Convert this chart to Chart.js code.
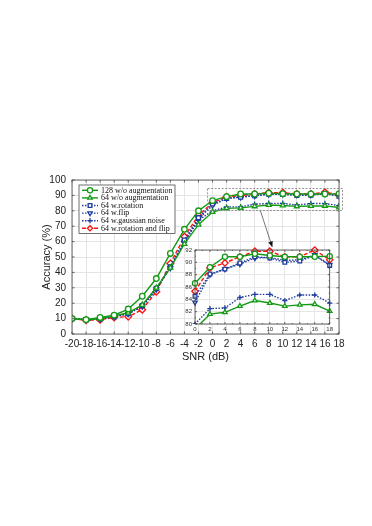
<!DOCTYPE html>
<html>
<head>
<meta charset="utf-8">
<script src="https://cdn.jsdelivr.net/npm/chart.js@4.4.1/dist/chart.umd.min.js"></script>
<style>
html, body { margin: 0; padding: 0; background: #fff; }
#wrap { position: relative; width: 372px; height: 526px; }
#main { position: absolute; left: 0; top: 0; }
#inset { position: absolute; left: 173px; top: 240px; }
</style>
</head>
<body>
<div id="wrap">
  <canvas id="main" width="372" height="526"></canvas>
  <canvas id="inset" width="162" height="94"></canvas>
</div>
<script>
// SNR values (dB)
const snr = [-20, -18, -16, -14, -12, -10, -8, -6, -4, -2, 0, 2, 4, 6, 8, 10, 12, 14, 16, 18];

// accuracy (%) per model
const acc128NoAug   = [10, 9.3, 10.7, 12.2, 16.2, 24.5, 36.0, 52.3, 68.0, 80.0, 86.6, 89.2, 90.9, 90.9, 91.4, 91.1, 90.9, 90.9, 90.9, 91.0];
const acc64NoAug    = [10, 9.3, 9.8, 11.8, 13.8, 18.9, 30.0, 43.0, 58.5, 71.0, 79.2, 81.6, 81.9, 82.9, 83.8, 83.4, 82.9, 83.1, 83.2, 82.1];
const acc64Rot      = [10, 9.3, 9.8, 11.3, 13.3, 18.4, 29.6, 43.6, 61.0, 75.5, 84.5, 88.1, 88.9, 89.9, 90.9, 90.7, 90.0, 90.2, 91.1, 89.5];
const acc64Flip     = [10, 9.3, 9.8, 11.3, 13.0, 18.0, 29.0, 43.0, 60.0, 74.8, 83.5, 88.0, 88.9, 89.7, 90.7, 90.8, 90.3, 90.4, 91.2, 89.6];
const acc64Gauss    = [10, 9.3, 9.8, 11.3, 13.3, 18.0, 29.0, 43.5, 59.8, 73.9, 80.0, 82.5, 82.6, 84.3, 84.8, 84.8, 83.8, 84.7, 84.7, 83.4];
const acc64RotFlip  = [10, 8.9, 9.3, 10.7, 11.3, 15.8, 27.5, 45.8, 63.2, 77.0, 85.3, 89.1, 89.9, 90.9, 91.8, 91.8, 90.9, 90.9, 92.0, 90.4];

const labels = ['128 w/o augmentation', '64 w/o augmentation', '64 w.rotation',
                '64 w.flip', '64 w.gaussian noise', '64 w.rotation and flip'];

const GREEN = '#159a15', BLUE = '#1f3c9c', RED = '#ff1010';

const series = [
  { label: labels[0], values: acc128NoAug,  color: GREEN, style: 'circle',   rot: 0,   dash: [] },
  { label: labels[1], values: acc64NoAug,   color: GREEN, style: 'triangle', rot: 0,   dash: [] },
  { label: labels[2], values: acc64Rot,     color: BLUE,  style: 'rect',     rot: 0,   dash: [1.5, 1.5] },
  { label: labels[3], values: acc64Flip,    color: BLUE,  style: 'triangle', rot: 180, dash: [1.5, 1.5] },
  { label: labels[4], values: acc64Gauss,   color: BLUE,  style: 'cross',    rot: 0,   dash: [1.5, 1.5] },
  { label: labels[5], values: acc64RotFlip, color: RED,   style: 'rectRot',  rot: 0,   dash: [4, 2] }
];

const SANS = '"Liberation Sans", Arial, sans-serif';

function makeDatasets(from, radius) {
  return series.map(s => ({
    label: s.label,
    data: snr.slice(from).map((x, i) => ({ x: x, y: s.values[from + i] })),
    borderColor: s.color,
    borderWidth: 1.4,
    borderDash: s.dash,
    pointStyle: s.style,
    pointRotation: s.rot,
    pointRadius: s.style === 'rectRot' ? radius + 0.6 : radius,
    pointBorderWidth: 1.3,
    pointBorderColor: s.color,
    pointBackgroundColor: '#fff',
    tension: 0,
    fill: false
  }));
}

// box, inward ticks, optional minor ticks (matlab look)
function drawFrame(chart, len, minor) {
  const ctx = chart.ctx, a = chart.chartArea;
  const xs = chart.scales.x, ys = chart.scales.y;
  ctx.save();
  ctx.strokeStyle = '#444';
  ctx.lineWidth = 0.8;
  ctx.strokeRect(a.left, a.top, a.right - a.left, a.bottom - a.top);
  ctx.beginPath();
  const xt = xs.ticks.map(t => t.value), yt = ys.ticks.map(t => t.value);
  xt.forEach((v, i) => {
    const px = xs.getPixelForValue(v);
    ctx.moveTo(px, a.bottom); ctx.lineTo(px, a.bottom - len);
    ctx.moveTo(px, a.top); ctx.lineTo(px, a.top + len);
    if (minor && i < xt.length - 1) {
      const pm = xs.getPixelForValue((v + xt[i + 1]) / 2);
      ctx.moveTo(pm, a.bottom); ctx.lineTo(pm, a.bottom - len / 2);
      ctx.moveTo(pm, a.top); ctx.lineTo(pm, a.top + len / 2);
    }
  });
  yt.forEach((v, i) => {
    const py = ys.getPixelForValue(v);
    ctx.moveTo(a.left, py); ctx.lineTo(a.left + len, py);
    ctx.moveTo(a.right, py); ctx.lineTo(a.right - len, py);
    if (minor && i < yt.length - 1) {
      const pm = ys.getPixelForValue((v + yt[i + 1]) / 2);
      ctx.moveTo(a.left, pm); ctx.lineTo(a.left + len / 2, pm);
      ctx.moveTo(a.right, pm); ctx.lineTo(a.right - len / 2, pm);
    }
  });
  ctx.stroke();
  ctx.restore();
}

function drawMarker(ctx, s, x, y, r) {
  ctx.fillStyle = '#fff';
  ctx.strokeStyle = s.color;
  ctx.lineWidth = 1.3;
  ctx.setLineDash([]);
  Chart.helpers.drawPoint(ctx, { pointStyle: s.style, rotation: s.rot, radius: r, borderWidth: 1.3 }, x, y);
}

// keep the plot box where the layout padding puts it
function noEdgePad(s) {
  s.paddingLeft = 0; s.paddingRight = 0; s.paddingTop = 0; s.paddingBottom = 0;
}

const mainExtras = {
  id: 'mainExtras',
  beforeDraw(chart) {
    const ctx = chart.ctx;
    ctx.save();
    ctx.fillStyle = '#fff';
    ctx.fillRect(0, 0, chart.width, chart.height);
    ctx.restore();
  },
  afterDatasetsDraw(chart) {
    const ctx = chart.ctx, a = chart.chartArea;
    const xs = chart.scales.x, ys = chart.scales.y;
    drawFrame(chart, 2.5, false);

    // zoom rectangle around the plateau
    ctx.save();
    ctx.strokeStyle = '#888';
    ctx.lineWidth = 0.9;
    ctx.setLineDash([2, 1.5]);
    const rx0 = xs.getPixelForValue(-0.7), rx1 = xs.getPixelForValue(18.5);
    const ry0 = ys.getPixelForValue(94.5), ry1 = ys.getPixelForValue(80.2);
    ctx.strokeRect(rx0, ry0, rx1 - rx0, ry1 - ry0);
    ctx.restore();

    // arrow to the inset
    ctx.save();
    const ax0 = xs.getPixelForValue(6.8), ay0 = ys.getPixelForValue(80.2);
    const ax1 = xs.getPixelForValue(8.5), ay1 = ys.getPixelForValue(56.5);
    ctx.strokeStyle = '#555';
    ctx.lineWidth = 0.8;
    ctx.beginPath();
    ctx.moveTo(ax0, ay0); ctx.lineTo(ax1, ay1);
    ctx.stroke();
    const ang = Math.atan2(ay1 - ay0, ax1 - ax0);
    ctx.fillStyle = '#111';
    ctx.beginPath();
    ctx.moveTo(ax1, ay1);
    ctx.lineTo(ax1 - 6 * Math.cos(ang - 0.4), ay1 - 6 * Math.sin(ang - 0.4));
    ctx.lineTo(ax1 - 6 * Math.cos(ang + 0.4), ay1 - 6 * Math.sin(ang + 0.4));
    ctx.closePath();
    ctx.fill();
    ctx.restore();

    // legend box
    ctx.save();
    const lx = a.left + 7, ly = a.top + 5, rowH = 7.6, lw = 96;
    const lh = rowH * series.length + 3;
    ctx.fillStyle = '#fff';
    ctx.fillRect(lx, ly, lw, lh);
    ctx.strokeStyle = '#333';
    ctx.lineWidth = 0.7;
    ctx.strokeRect(lx, ly, lw, lh);
    ctx.font = '8px "Liberation Serif", "Times New Roman", serif';
    ctx.textBaseline = 'middle';
    series.forEach((s, i) => {
      const cy = ly + 1.5 + rowH * (i + 0.5);
      ctx.strokeStyle = s.color;
      ctx.lineWidth = 1.4;
      ctx.setLineDash(s.dash);
      ctx.beginPath();
      ctx.moveTo(lx + 3, cy); ctx.lineTo(lx + 19, cy);
      ctx.stroke();
      drawMarker(ctx, s, lx + 11, cy, 2.6);
      ctx.fillStyle = '#111';
      ctx.fillText(s.label, lx + 22, cy + 0.3);
    });
    ctx.restore();
  }
};

new Chart(document.getElementById('main'), {
  type: 'line',
  data: { datasets: makeDatasets(0, 2.8) },
  options: {
    responsive: false,
    animation: false,
    layout: { padding: { left: 40, top: 180, right: 33, bottom: 162 } },
    plugins: { legend: { display: false }, tooltip: { enabled: false } },
    scales: {
      x: {
        type: 'linear', min: -20, max: 18,
        afterFit(s) { s.height = 30; noEdgePad(s); },
        ticks: { stepSize: 2, autoSkip: false, maxRotation: 0, padding: 4, color: '#222',
                 font: { family: SANS, size: 10 } },
        grid: { color: '#e4e4e4', drawTicks: false },
        border: { display: false },
        title: { display: true, text: 'SNR (dB)', color: '#222', padding: { top: 1, bottom: 0 },
                 font: { family: SANS, size: 11 } }
      },
      y: {
        type: 'linear', min: 0, max: 100,
        afterFit(s) { s.width = 32; noEdgePad(s); },
        ticks: { stepSize: 10, padding: 6, color: '#222', font: { family: SANS, size: 10 } },
        grid: { color: '#e4e4e4', drawTicks: false },
        border: { display: false },
        title: { display: true, text: 'Accuracy (%)', color: '#222', padding: { top: 0, bottom: 2 },
                 font: { family: SANS, size: 11 } }
      }
    }
  },
  plugins: [mainExtras]
});

const insetExtras = {
  id: 'insetExtras',
  beforeDraw(chart) {
    const ctx = chart.ctx, a = chart.chartArea;
    ctx.save();
    ctx.fillStyle = '#fff';
    ctx.fillRect(a.left, a.top, a.right - a.left, a.bottom - a.top);
    ctx.restore();
  },
  afterDatasetsDraw(chart) {
    drawFrame(chart, 2, true);
  }
};

new Chart(document.getElementById('inset'), {
  type: 'line',
  data: { datasets: makeDatasets(10, 2.6).map(d => Object.assign(d, { clip: { left: 5, right: 5, top: 5, bottom: 0 } })) },
  options: {
    responsive: false,
    animation: false,
    layout: { padding: { left: 0, top: 10, right: 0, bottom: 0 } },
    plugins: { legend: { display: false }, tooltip: { enabled: false } },
    scales: {
      x: {
        type: 'linear', min: 0, max: 18,
        afterFit(s) { s.height = 10; noEdgePad(s); },
        ticks: { stepSize: 2, autoSkip: false, maxRotation: 0, padding: 2, color: '#333',
                 font: { family: SANS, size: 6 } },
        grid: { color: '#e6e6e6', drawTicks: false },
        border: { display: false }
      },
      y: {
        type: 'linear', min: 80, max: 92,
        afterFit(s) { s.width = 22; noEdgePad(s); },
        ticks: { stepSize: 2, padding: 3, color: '#333', font: { family: SANS, size: 6 } },
        grid: { color: '#e6e6e6', drawTicks: false },
        border: { display: false }
      }
    }
  },
  plugins: [insetExtras]
});
</script>
</body>
</html>
